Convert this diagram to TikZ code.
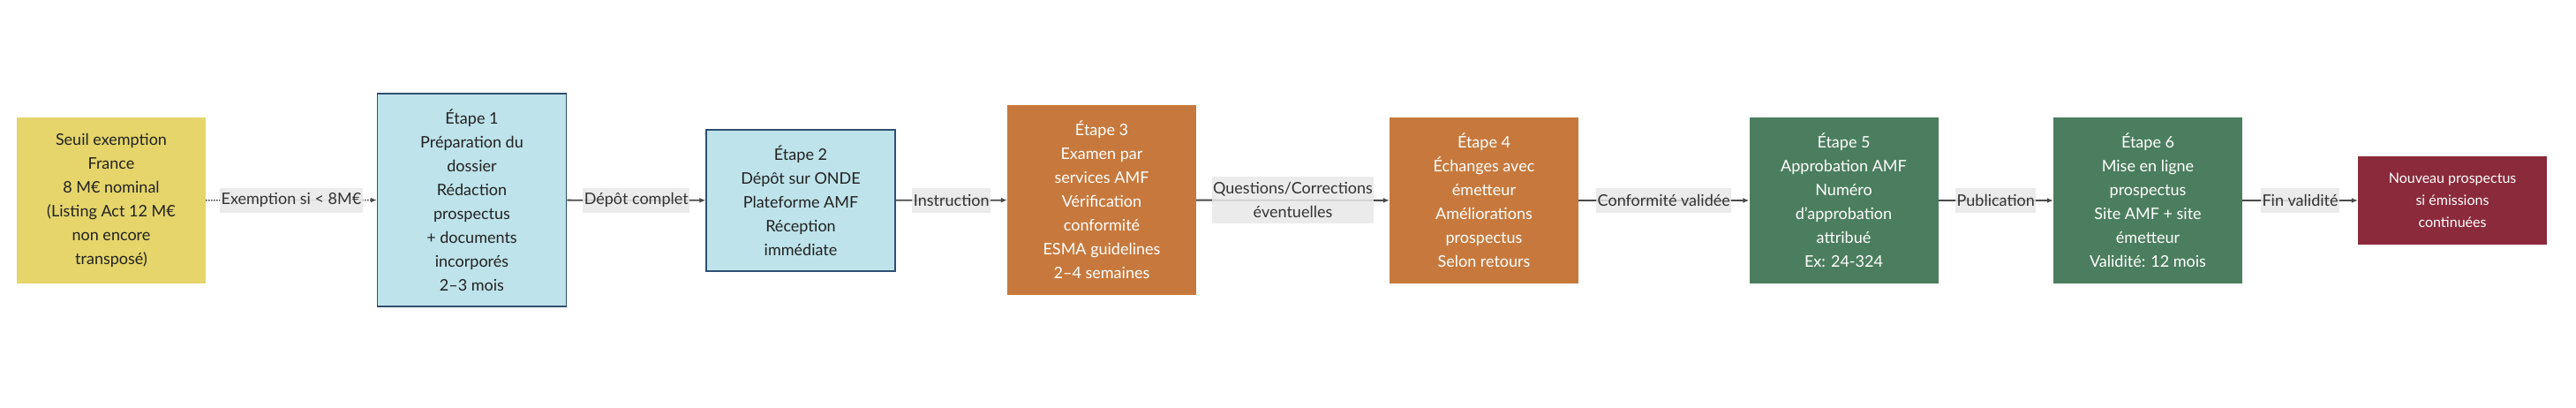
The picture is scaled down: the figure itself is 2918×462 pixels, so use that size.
\documentclass[tikz,border=0pt]{standalone}
\usepackage{fontspec}
\setmainfont{Lato}
\usetikzlibrary{arrows.meta}
\definecolor{cyellow}{HTML}{E5D56A}
\definecolor{cblue}{HTML}{BEE3EA}
\definecolor{cblueb}{HTML}{2F4F70}
\definecolor{corange}{HTML}{C7793D}
\definecolor{cgreen}{HTML}{4B7E5E}
\definecolor{cred}{HTML}{8A2A3A}
\definecolor{clabel}{HTML}{E8E8E8}
\definecolor{cline}{HTML}{4A4A4A}
\definecolor{ctext}{HTML}{222222}
\definecolor{ltext}{HTML}{333333}
\begin{document}
\begin{tikzpicture}[x=1pt,y=1pt,
 box/.style={rectangle, minimum width=214pt, align=center, inner sep=0pt, font=\fontsize{18}{27}\selectfont},
 yellowbox/.style={box, fill=cyellow, text=ctext},
 bluebox/.style={box, fill=cblue, draw=cblueb, line width=1.5pt, text=ctext},
 orangebox/.style={box, fill=corange, text=white},
 greenbox/.style={box, fill=cgreen, text=white},
 redbox/.style={box, fill=cred, text=white, font=\fontsize{16}{25}\selectfont},
 elabel/.style={fill=clabel, fill opacity=0.85, text opacity=1, text=ltext, inner xsep=1.5pt, inner ysep=1pt, minimum height=28pt, align=center, font=\fontsize{18}{27}\selectfont},
 flow/.style={draw=cline, line width=1.8pt, -{Latex[length=7pt,width=6pt]}},
 dotflow/.style={draw=cline, line width=1.5pt, dash pattern=on 1.5pt off 1.5pt, -{Latex[length=7pt,width=6pt]}},
]
\useasboundingbox[fill=white] (0,0) rectangle (2918,-462);

\node[yellowbox, minimum height=188pt] (s) at (126,-227) {Seuil exemption\\France\\8 M€ nominal\\(Listing Act 12 M€\\non encore\\transposé)};
\node[bluebox, minimum height=241pt] (e1) at (534.5,-226.5) {Étape 1\\Préparation du\\dossier\\Rédaction\\prospectus\\+ documents\\incorporés\\2–3 mois};
\node[bluebox, minimum height=160pt] (e2) at (907,-227) {Étape 2\\Dépôt sur ONDE\\Plateforme AMF\\Réception\\immédiate};
\node[orangebox, minimum height=215pt] (e3) at (1248,-226.5) {Étape 3\\Examen par\\services AMF\\Vérification\\conformité\\ESMA guidelines\\2–4 semaines};
\node[orangebox, minimum height=188pt] (e4) at (1681,-227) {Étape 4\\Échanges avec\\émetteur\\Améliorations\\prospectus\\Selon retours};
\node[greenbox, minimum height=188pt] (e5) at (2088.5,-227) {Étape 5\\Approbation AMF\\Numéro\\d'approbation\\attribué\\Ex: 24-324};
\node[greenbox, minimum height=188pt] (e6) at (2433,-227) {Étape 6\\Mise en ligne\\prospectus\\Site AMF + site\\émetteur\\Validité: 12 mois};
\node[redbox, minimum height=100pt] (nv) at (2778,-227) {Nouveau prospectus\\si émissions\\continuées};

\draw[dotflow] (s) -- node[elabel] {Exemption si < 8M€} (e1);
\draw[flow] (e1) -- node[elabel] {Dépôt complet} (e2);
\draw[flow] (e2) -- node[elabel] {Instruction} (e3);
\draw[flow] (e3) -- node[elabel, minimum height=53pt] {Questions/Corrections\\éventuelles} (e4);
\draw[flow] (e4) -- node[elabel] {Conformité validée} (e5);
\draw[flow] (e5) -- node[elabel] {Publication} (e6);
\draw[flow] (e6) -- node[elabel] {Fin validité} (nv);
\end{tikzpicture}
\end{document}
